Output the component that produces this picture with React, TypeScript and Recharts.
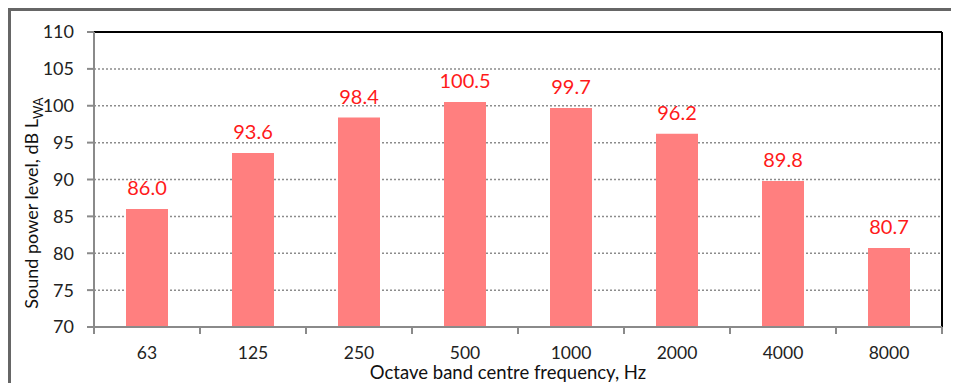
import React from "react";
import { BarChart, Bar, XAxis, YAxis, CartesianGrid, LabelList, ReferenceLine } from "recharts";

const categories = ["63", "125", "250", "500", "1000", "2000", "4000", "8000"];
const levels = [86.0, 93.6, 98.4, 100.5, 99.7, 96.2, 89.8, 80.7];
const yTicks = [70, 75, 80, 85, 90, 95, 100, 105, 110];

const data = categories.map((c, i) => ({ freq: c, level: levels[i] }));

const CHART_W = 948;
const CHART_H = 372;
const MARGIN = { top: 21, right: 17, bottom: 0, left: 0 };
const Y_W = 83;
const PLOT_W = CHART_W - MARGIN.left - MARGIN.right - Y_W;
const HALF_BAND = PLOT_W / categories.length / 2;
const FONT = "Lato, 'Open Sans', sans-serif";
const AXIS_GRAY = "#8a8a8a";

const XTick = (props: any) => {
  const { x, y, payload, index } = props;
  return (
    <g>
      <text x={x} y={y + 32} textAnchor="middle" fontFamily={FONT} fontSize={17.5} fill="#222">
        {payload.value}
      </text>
      <line x1={x + HALF_BAND} x2={x + HALF_BAND} y1={y} y2={y + 7} stroke={AXIS_GRAY} strokeWidth={2} />
      {index === 0 && (
        <line x1={x - HALF_BAND} x2={x - HALF_BAND} y1={y} y2={y + 7} stroke={AXIS_GRAY} strokeWidth={2} />
      )}
    </g>
  );
};

const YLabel = () => (
  <text
    transform="translate(27, 192) rotate(-90)"
    textAnchor="middle"
    fontFamily={FONT}
    fontSize={18}
    fill="#111"
  >
    Sound power level, dB L
    <tspan fontSize={13} dy={5}>WA</tspan>
  </text>
);

const XLabel = () => (
  <text x={497} y={368} textAnchor="middle" fontFamily={FONT} fontSize={18.5} fill="#111">
    Octave band centre frequency, Hz
  </text>
);

export default function App() {
  return (
    <div
      style={{
        marginTop: -1,
        marginLeft: -1,
        borderTop: "4px solid #666",
        borderLeft: "4px solid #666",
        width: CHART_W,
        height: CHART_H,
        background: "#fff",
      }}
    >
      <BarChart width={CHART_W} height={CHART_H} data={data} margin={MARGIN} barCategoryGap="30%">
        <CartesianGrid vertical={false} stroke="#8c8c8c" strokeDasharray="2 2" strokeWidth={1.5} />
        <XAxis
          dataKey="freq"
          height={56}
          axisLine={{ stroke: AXIS_GRAY, strokeWidth: 2 }}
          tickLine={false}
          tickSize={0}
          tickMargin={0}
          tick={<XTick />}
          interval={0}
          label={{ content: () => <XLabel /> }}
        />
        <YAxis
          type="number"
          domain={[70, 110]}
          ticks={yTicks}
          width={Y_W}
          axisLine={{ stroke: AXIS_GRAY, strokeWidth: 2 }}
          tickLine={{ stroke: AXIS_GRAY, strokeWidth: 2 }}
          tickSize={7}
          tickMargin={13}
          tick={{ fontFamily: FONT, fontSize: 18, fill: "#222" }}
          interval={0}
          label={{ content: () => <YLabel /> }}
        />
        <ReferenceLine y={110} stroke="#000" strokeWidth={2} />
        <ReferenceLine x="8000" position="end" stroke="#000" strokeWidth={2} />
        <Bar dataKey="level" fill="#ff7f7f" barSize={42} isAnimationActive={false}>
          <LabelList
            dataKey="level"
            position="top"
            offset={14}
            formatter={(v: any) => Number(v).toFixed(1)}
            fill="#ff1a1a"
            fontFamily={FONT}
            fontSize={20}
          />
        </Bar>
      </BarChart>
    </div>
  );
}
